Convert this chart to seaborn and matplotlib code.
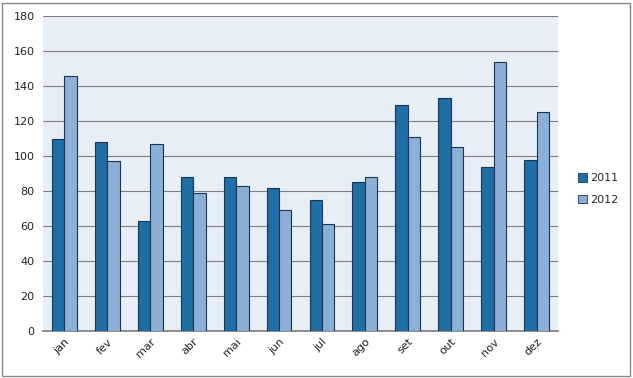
import matplotlib
matplotlib.use("Agg")
import matplotlib.pyplot as plt
import seaborn as sns
import pandas as pd
from matplotlib.patches import Rectangle

months = ["jan", "fev", "mar", "abr", "mai", "jun", "jul", "ago", "set", "out", "nov", "dez"]
v2011 = [110, 108, 63, 88, 88, 82, 75, 85, 129, 133, 94, 98]
v2012 = [146, 97, 107, 79, 83, 69, 61, 88, 111, 105, 154, 125]
series = ["2011", "2012"]
colors = ["#1F6EA5", "#8BAFD6"]
yticks = [0, 20, 40, 60, 80, 100, 120, 140, 160, 180]

df = pd.DataFrame({
    "mes": months * 2,
    "valor": v2011 + v2012,
    "ano": [series[0]] * len(months) + [series[1]] * len(months),
})

sns.set_theme(style="white")
plt.rcParams["font.family"] = ["DejaVu Sans"]

fig = plt.figure(figsize=(6.33, 3.78), dpi=100)
ax = fig.add_axes([43 / 633, 47 / 378, 515 / 633, 315 / 378])
ax.set_facecolor("#E7EEF6")

sns.barplot(data=df, x="mes", y="valor", hue="ano", palette=colors,
            width=0.58, edgecolor="#1A3550", linewidth=0.8, ax=ax,
            saturation=1, legend=False, zorder=3)

ax.set_ylim(0, 180)
ax.set_yticks(yticks)
ax.set_xlim(-0.5, len(months) - 0.5)
ax.yaxis.grid(True, color="#7F7F7F", linewidth=0.8, zorder=0)
ax.set_axisbelow(True)
ax.set_xlabel("")
ax.set_ylabel("")
for s in ["top", "right", "left"]:
    ax.spines[s].set_visible(False)
ax.spines["bottom"].set_color("#7F7F7F")
ax.tick_params(axis="y", labelsize=8, length=0, pad=6, colors="#222222")
ax.tick_params(axis="x", labelsize=8, length=0, pad=4, colors="#222222")
ax.set_xticks(range(len(months)))
ax.set_xticklabels(months, rotation=45, ha="right", rotation_mode="anchor")

handles = [Rectangle((0, 0), 1, 1, facecolor=c, edgecolor="#1A3550", linewidth=0.6) for c in colors]
fig.legend(handles, series, loc="center left", bbox_to_anchor=(568 / 633, 1 - 189 / 378),
           frameon=False, fontsize=8, handlelength=0.8, handleheight=0.8,
           handletextpad=0.3, labelspacing=1.0)

border = Rectangle((2 / 633, 2 / 378), 628 / 633, 373 / 378, transform=fig.transFigure,
                   fill=False, edgecolor="#888888", linewidth=1.0)
fig.patches.append(border)

fig.savefig("out.png", dpi=100, facecolor="white")
